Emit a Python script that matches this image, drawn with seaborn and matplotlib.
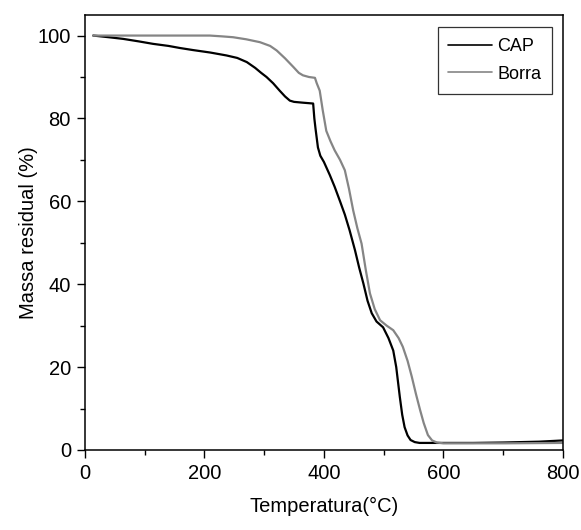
import matplotlib
matplotlib.use("Agg")
import matplotlib.pyplot as plt
from matplotlib.ticker import MultipleLocator
import seaborn as sns
import pandas as pd

# TGA curves
cap_temp = [14, 40, 64, 90, 114, 140, 159, 181, 210, 237, 255, 271, 285, 295, 304, 315,
            326, 335, 343, 350, 365, 382, 384, 386, 390, 394, 400, 410, 418, 427, 435,
            443, 452, 459, 466, 473, 480, 488, 499, 508, 516, 521, 527, 531, 535, 540,
            545, 552, 560, 600, 650, 700, 760, 800]
cap_mass = [100, 99.6, 99.2, 98.6, 98.0, 97.5, 97.0, 96.5, 95.9, 95.2, 94.6, 93.6, 92.2,
            91.0, 90.0, 88.5, 86.7, 85.3, 84.3, 84.0, 83.8, 83.6, 80.0, 77.5, 73.0,
            71.0, 69.5, 66.3, 63.5, 60.0, 56.8, 53.0, 48.2, 44.0, 40.2, 36.0, 33.0,
            31.0, 29.6, 27.0, 24.0, 20.0, 12.8, 8.5, 5.5, 3.5, 2.4, 1.9, 1.7, 1.7,
            1.7, 1.8, 2.0, 2.3]
borra_temp = [14, 60, 150, 209, 230, 248, 270, 293, 310, 321, 335, 349, 358, 365, 375,
              385, 388, 393, 398, 404, 411, 418, 427, 435, 442, 449, 456, 463, 470, 477,
              485, 494, 505, 516, 525, 532, 540, 547, 554, 561, 567, 574, 581, 589, 600,
              700, 800]
borra_mass = [100, 100, 100, 100, 99.8, 99.6, 99.1, 98.4, 97.5, 96.4, 94.5, 92.4, 91.0,
              90.4, 90.0, 89.8, 88.5, 86.7, 82.0, 77.0, 74.5, 72.3, 70.0, 67.5, 63.0,
              57.8, 53.5, 49.8, 43.5, 37.8, 34.0, 31.3, 30.0, 28.9, 27.0, 24.9, 21.5,
              17.7, 13.5, 9.6, 6.5, 3.6, 2.3, 1.8, 1.6, 1.6, 1.7]

df = pd.concat([
    pd.DataFrame({"Temperatura": cap_temp, "Massa": cap_mass, "Amostra": "CAP"}),
    pd.DataFrame({"Temperatura": borra_temp, "Massa": borra_mass, "Amostra": "Borra"}),
])

sns.set_style("ticks", {"text.color": "black", "axes.labelcolor": "black",
                        "xtick.color": "black", "ytick.color": "black",
                        "axes.edgecolor": "black"})
plt.rcParams["font.family"] = ["Liberation Sans", "DejaVu Sans"]

fig = plt.figure(figsize=(5.81, 5.3), dpi=100)
ax = fig.add_axes([0.146, 0.151, 0.823, 0.821])

sns.lineplot(data=df, x="Temperatura", y="Massa", hue="Amostra",
             palette={"CAP": "black", "Borra": "#858585"}, linewidth=1.6,
             sort=False, estimator=None, ax=ax)

ax.set_xlim(0, 800)
ax.set_ylim(0, 105)
ax.xaxis.set_major_locator(MultipleLocator(200))
ax.xaxis.set_minor_locator(MultipleLocator(100))
ax.yaxis.set_major_locator(MultipleLocator(20))
ax.yaxis.set_minor_locator(MultipleLocator(10))
ax.tick_params(which="major", direction="out", length=6, width=1, labelsize=14.5, pad=4)
ax.tick_params(which="minor", direction="out", length=3.5, width=1)
for s in ax.spines.values():
    s.set_linewidth(1.1)

ax.set_xlabel("Temperatura(°C)", fontsize=14.5, labelpad=10)
ax.set_ylabel("Massa residual (%)", fontsize=14.5, labelpad=0)

leg = ax.legend(loc="upper right", bbox_to_anchor=(0.977, 0.972), borderaxespad=0,
                fontsize=13, frameon=True, fancybox=False, edgecolor="black",
                handlelength=2.4, handletextpad=0.3, borderpad=0.6, labelspacing=0.6)
leg.get_frame().set_linewidth(0.9)
for h in leg.get_lines():
    h.set_linewidth(1.2)

fig.savefig("out.png", dpi=100)
